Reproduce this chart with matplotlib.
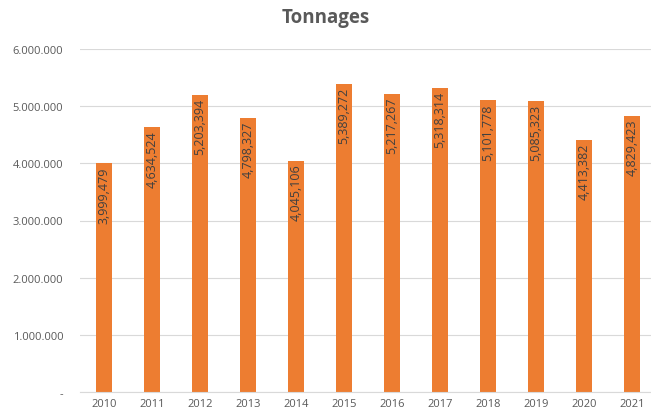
import matplotlib.pyplot as plt
from matplotlib.ticker import FuncFormatter

# Data
years = ["2010", "2011", "2012", "2013", "2014", "2015",
         "2016", "2017", "2018", "2019", "2020", "2021"]
tonnages = [3999479, 4634524, 5203394, 4798327, 4045106, 5389272,
            5217267, 5318314, 5101778, 5085323, 4413382, 4829423]
yticks = [0, 1000000, 2000000, 3000000, 4000000, 5000000, 6000000]

plt.rcParams['font.family'] = ['Open Sans', 'DejaVu Sans']

fig = plt.figure(figsize=(6.51, 4.14), dpi=100)
ax = fig.add_axes([80 / 651, 21 / 414, 576 / 651, 343 / 414])

x = range(len(years))
bars = ax.bar(x, tonnages, width=0.32, color="#ed7d31", zorder=2)

# value labels inside the top of each bar
for xi, v in zip(x, tonnages):
    ax.annotate(f"{v:,}", (xi, v), xytext=(0, -2), textcoords="offset points",
                rotation=90, ha="center", va="top", fontsize=9, color="#404040")

ax.set_xlim(-0.5, len(years) - 0.5)
ax.set_ylim(0, 6000000)
ax.set_yticks(yticks)
ax.yaxis.set_major_formatter(FuncFormatter(
    lambda v, p: "-" if v == 0 else f"{int(v):,}".replace(",", ".")))
ax.set_xticks(list(x))
ax.set_xticklabels(years)

ax.grid(axis="y", color="#d9d9d9", linewidth=0.8, zorder=0)
for s in ["top", "right", "left"]:
    ax.spines[s].set_visible(False)
ax.spines["bottom"].set_color("#d9d9d9")
ax.tick_params(axis="both", length=0, labelsize=8, colors="#595959", pad=4)
ax.tick_params(axis="y", pad=12)

fig.text(0.5, 1 - 18 / 414, "Tonnages", ha="center", va="center",
         fontsize=13.5, fontweight="bold", color="#595959")

fig.savefig("out.png", dpi=100)
